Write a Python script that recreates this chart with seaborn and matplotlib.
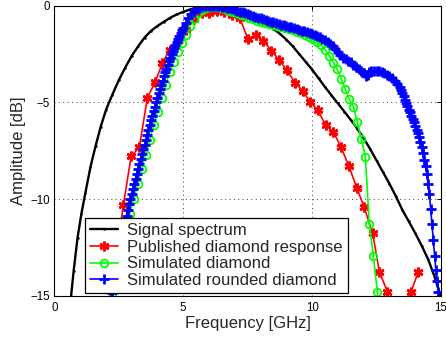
#!/usr/bin/env python

import numpy as np
import matplotlib
matplotlib.use('Agg')
import matplotlib.pyplot as plt
import seaborn as sns

# ------------------------------------------------------------------
# data (frequency in GHz, amplitude in dB)
# ------------------------------------------------------------------

sig_f = [0.55, 0.65, 0.75, 0.9, 1.05, 1.2, 1.4, 1.6, 1.8, 2.0, 2.25, 2.5, 2.75,
         3.0, 3.25, 3.5, 3.75, 4.0, 4.25, 4.5, 4.75, 5.0, 5.25, 5.5, 5.75, 6.0,
         6.25, 6.5, 6.75, 7.0, 7.25, 7.5, 7.75, 8.0, 8.25, 8.5, 8.75, 9.0, 9.25,
         9.5, 9.75, 10.0, 10.25, 10.5, 10.75, 11.0, 11.25, 11.5, 11.75, 12.0,
         12.25, 12.5, 12.75, 13.0, 13.25, 13.5, 13.75, 14.0, 14.25, 14.5, 14.75,
         15.0]
sig_db = [-16.2, -15.0, -13.7, -12.0, -10.75, -9.7, -8.35, -7.25, -6.25, -5.4,
          -4.6, -3.85, -3.2, -2.6, -2.1, -1.65, -1.3, -1.05, -0.83, -0.62,
          -0.45, -0.32, -0.2, -0.1, -0.04, 0.0, -0.01, -0.05, -0.12, -0.22,
          -0.34, -0.5, -0.65, -0.8, -0.98, -1.2, -1.45, -1.75, -2.1, -2.5,
          -2.9, -3.3, -3.75, -4.2, -4.63, -5.05, -5.47, -5.9, -6.35, -6.85,
          -7.4, -8.0, -8.6, -9.2, -9.85, -10.55, -11.15, -11.75, -12.4, -13.1,
          -14.0, -15.1]

pub_f = [2.08, 2.38, 2.68, 2.98, 3.30, 3.61, 3.91, 4.19, 4.47, 4.78, 5.09,
         5.41, 5.72, 6.01, 6.32, 6.6, 6.88, 7.2, 7.51, 7.82, 8.11, 8.42, 8.72,
         9.01, 9.34, 9.63, 9.92, 10.22, 10.53, 10.82, 11.12, 11.42, 11.73,
         12.01, 12.35, 12.61, 12.92, 13.23, 13.53, 13.84, 14.12]
pub_db = [-15.8, -13.0, -10.29, -7.78, -7.31, -4.75, -3.96, -2.98, -2.27,
          -1.8, -1.25, -0.7, -0.39, -0.36, -0.27, -0.35, -0.46, -0.65, -1.72,
          -1.5, -1.82, -2.33, -2.8, -3.32, -3.98, -4.39, -4.97, -5.4, -6.18,
          -6.51, -7.3, -8.27, -9.4, -10.38, -11.76, -13.76, -14.77, -16.5,
          -16.5, -14.77, -13.76]

sim_f = [2.145, 2.30, 2.455, 2.61, 2.765, 2.92, 3.075, 3.23, 3.385, 3.54,
         3.695, 3.85, 4.005, 4.16, 4.315, 4.47, 4.625, 4.78, 4.935, 5.09,
         5.245, 5.40, 5.555, 5.71, 5.865, 6.02, 6.175, 6.33, 6.485, 6.64,
         6.795, 6.95, 7.105, 7.26, 7.415, 7.57, 7.725, 7.88, 8.035, 8.19,
         8.345, 8.50, 8.655, 8.81, 8.965, 9.12, 9.275, 9.43, 9.585, 9.74,
         9.895, 10.05, 10.205, 10.36, 10.515, 10.67, 10.825, 10.98, 11.135,
         11.29, 11.445, 11.60, 11.755, 11.91, 12.065, 12.22, 12.375, 12.53,
         12.685]
sim_db = [-16.5, -15.6, -14.5, -13.3, -12.0, -10.76, -10.0, -9.23, -8.43,
          -7.71, -6.94, -6.16, -5.47, -4.75, -4.10, -3.41, -2.89, -2.4, -1.95,
          -1.5, -1.05, -0.68, -0.4, -0.2, -0.1, -0.06, -0.05, -0.07, -0.12,
          -0.18, -0.26, -0.33, -0.4, -0.47, -0.55, -0.62, -0.69, -0.77, -0.84,
          -0.9, -0.96, -1.02, -1.07, -1.12, -1.17, -1.22, -1.28, -1.35, -1.42,
          -1.5, -1.6, -1.72, -1.86, -2.03, -2.29, -2.6, -2.94, -3.29, -3.79,
          -4.32, -4.84, -5.22, -6.02, -6.88, -7.8, -11.29, -12.91, -14.77,
          -16.8]

rnd_f = [2.00, 2.05, 2.10, 2.15, 2.20, 2.25, 2.30, 2.35, 2.40, 2.45, 2.50,
         2.55, 2.60, 2.65, 2.70, 2.75, 2.80, 2.85, 2.90, 2.95, 3.00, 3.05,
         3.10, 3.15, 3.20, 3.25, 3.30, 3.35, 3.40, 3.45, 3.50, 3.55, 3.60,
         3.65, 3.70, 3.75, 3.80, 3.85, 3.90, 3.95, 4.00, 4.05, 4.10, 4.15,
         4.20, 4.25, 4.30, 4.35, 4.40, 4.45, 4.50, 4.55, 4.60, 4.65, 4.70,
         4.75, 4.80, 4.85, 4.90, 4.95, 5.00, 5.1, 5.2, 5.3, 5.4, 5.5, 5.6,
         5.7, 5.8, 5.9, 6.0, 6.1, 6.2, 6.3, 6.4, 6.5, 6.6, 6.7, 6.8, 6.9, 7.0,
         7.1, 7.2, 7.3, 7.4, 7.5, 7.6, 7.7, 7.8, 7.9, 8.0, 8.1, 8.2, 8.3, 8.4,
         8.5, 8.6, 8.7, 8.8, 8.9, 9.0, 9.1, 9.2, 9.3, 9.4, 9.5, 9.6, 9.7, 9.8,
         9.9, 10.0, 10.1, 10.2, 10.3, 10.4, 10.5, 10.6, 10.7, 10.8, 10.9,
         11.0, 11.1, 11.2, 11.3, 11.4, 11.5, 11.6, 11.7, 11.8, 11.9, 12.0,
         12.1, 12.15, 12.2, 12.3, 12.4, 12.5, 12.6, 12.7, 12.8, 12.9, 13.0,
         13.1, 13.2, 13.3, 13.4, 13.45, 13.5, 13.55, 13.6, 13.65, 13.7, 13.75,
         13.8, 13.85, 13.9, 13.95, 14.0, 14.05, 14.1, 14.15, 14.2, 14.25,
         14.3, 14.35, 14.4, 14.45, 14.5, 14.55, 14.6, 14.65, 14.7, 14.75,
         14.8, 14.85, 14.9, 14.95, 15.0]
rnd_db = [-16.8, -16.4, -16.0, -15.6, -15.2, -14.85, -14.45, -14.05, -13.65,
          -13.25, -12.9, -12.55, -12.2, -11.85, -11.5, -11.15, -10.85, -10.55,
          -10.25, -9.98, -9.72, -9.45, -9.2, -8.95, -8.7, -8.43, -8.18, -7.93,
          -7.68, -7.43, -7.18, -6.92, -6.66, -6.42, -6.16, -5.92, -5.68, -5.45,
          -5.22, -4.98, -4.75, -4.52, -4.3, -4.08, -3.87, -3.65, -3.45, -3.25,
          -3.06, -2.88, -2.7, -2.52, -2.35, -2.18, -2.02, -1.86, -1.7, -1.55,
          -1.41, -1.27, -1.13, -0.88, -0.65, -0.45, -0.3, -0.18, -0.1, -0.05,
          -0.02, 0.0, 0.0, 0.0, 0.0, -0.01, -0.03, -0.05, -0.08, -0.11, -0.14,
          -0.18, -0.22, -0.26, -0.3, -0.35, -0.39, -0.44, -0.48, -0.53, -0.57,
          -0.62, -0.66, -0.7, -0.74, -0.78, -0.82, -0.86, -0.9, -0.94, -0.98,
          -1.01, -1.04, -1.08, -1.12, -1.16, -1.2, -1.25, -1.29, -1.33, -1.37,
          -1.42, -1.47, -1.52, -1.57, -1.63, -1.7, -1.78, -1.87, -1.97, -2.08,
          -2.22, -2.38, -2.55, -2.7, -2.78, -2.84, -2.93, -3.05, -3.15, -3.25,
          -3.36, -3.5, -3.62, -3.6, -3.45, -3.4, -3.38, -3.37, -3.38, -3.42,
          -3.48, -3.57, -3.65, -3.74, -3.88, -4.03, -4.2, -4.35, -4.5, -4.68,
          -4.85, -5.03, -5.2, -5.38, -5.5, -5.7, -5.85, -6.0, -6.2, -6.4, -6.6,
          -6.8, -7.05, -7.3, -7.6, -7.95, -8.3, -8.7, -9.2, -9.75, -10.5,
          -11.3, -12.1, -12.95, -13.65, -14.2, -14.8, -15.4, -16.0]

labels = ['Signal spectrum', 'Published diamond response',
          'Simulated diamond', 'Simulated rounded diamond']

# ------------------------------------------------------------------
# plot
# ------------------------------------------------------------------

sns.set_style('white')
plt.rcParams['font.family'] = ['Liberation Sans', 'DejaVu Sans']

fig = plt.figure(figsize=(4.46, 3.37), dpi=100)
ax = fig.add_axes([0.1218, 0.1217, 0.867, 0.8614])

sns.lineplot(x=sig_f, y=sig_db, ax=ax, color='k', linewidth=1.7, marker='.',
             markersize=3.5, markeredgecolor='k', markeredgewidth=0,
             estimator=None, sort=False)
sns.lineplot(x=pub_f, y=pub_db, ax=ax, color='#ff0000', linewidth=1.2,
             marker=(6, 2, 0), markersize=7, markeredgecolor='#ff0000',
             markeredgewidth=1.9, estimator=None, sort=False)
sns.lineplot(x=sim_f, y=sim_db, ax=ax, color='#00ff00', linewidth=1.2,
             marker='o', markersize=5.5, markerfacecolor='none',
             markeredgecolor='#00ff00', markeredgewidth=1.3,
             estimator=None, sort=False)
sns.lineplot(x=rnd_f, y=rnd_db, ax=ax, color='#0000ff', linewidth=1.2,
             marker='+', markersize=7, markeredgecolor='#0000ff',
             markeredgewidth=2.0, estimator=None, sort=False)

ax.set_xlim(0, 15)
ax.set_ylim(-15, 0)
ax.set_xticks([0, 5, 10, 15])
ax.set_yticks([-15, -10, -5, 0])
ax.grid(True, color='0.25', linestyle=(0, (1, 3.5)), linewidth=0.7)
ax.tick_params(direction='in', length=3, width=0.7, top=True, right=True,
               labelsize=8.3, colors='k')
ax.tick_params(axis='x', pad=4)
ax.tick_params(axis='y', pad=3)
for s in ax.spines.values():
    s.set_color('k')
    s.set_linewidth(0.8)
ax.set_axisbelow(True)

ax.set_xlabel('Frequency [GHz]', fontsize=12, labelpad=2)
ax.set_ylabel('Amplitude [dB]', fontsize=12, labelpad=3)

leg = ax.legend(handles=ax.lines[:4], labels=labels, loc='lower left',
                bbox_to_anchor=(0.079, 0.01), borderaxespad=0, fontsize=12,
                frameon=True, fancybox=False, framealpha=1, edgecolor='k',
                borderpad=0.3, labelspacing=0.1, handlelength=1.7,
                handletextpad=0.55)
leg.get_frame().set_linewidth(0.9)

fig.savefig('out.png', dpi=100)
